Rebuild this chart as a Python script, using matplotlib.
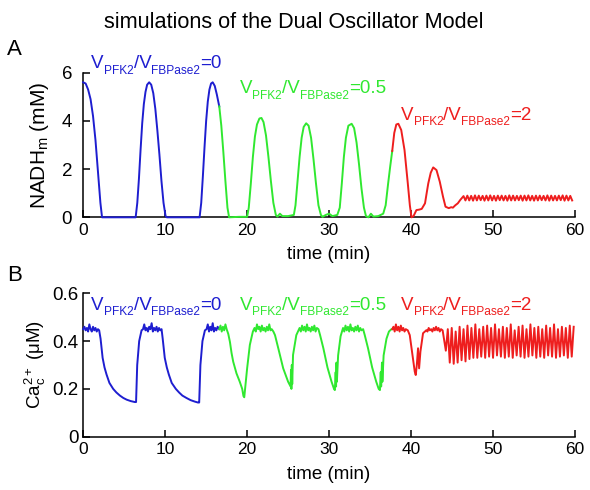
import numpy as np
import matplotlib
matplotlib.use("Agg")
import matplotlib.pyplot as plt

plt.rcParams["font.family"] = ["Liberation Sans", "DejaVu Sans"]
plt.rcParams["mathtext.fontset"] = "custom"
plt.rcParams["mathtext.rm"] = "Liberation Sans"
plt.rcParams["mathtext.it"] = "Liberation Sans:italic"

BLUE = "#1e1ed0"
GREEN = "#30e830"
RED = "#ee1e1e"

# ---- panel A: NADH_m (mM) ----
blue_nadh_t = [0.0, 0.3, 0.6, 0.9, 1.2, 1.5, 1.8, 2.1, 2.3, 6.4,
               6.6, 6.8, 7.0, 7.2, 7.4, 7.6, 7.8, 8.05, 8.3, 8.55,
               8.8, 9.05, 9.3, 9.55, 9.8, 10.05, 10.2, 14.2, 14.4, 14.6,
               14.8, 15.0, 15.2, 15.4, 15.6, 15.8, 16.05, 16.3, 16.6]
blue_nadh = [5.6, 5.55, 5.3, 4.9, 4.2, 3.2, 1.9, 0.6, 0.0, 0.0,
             0.6, 1.6, 2.8, 3.9, 4.7, 5.2, 5.5, 5.6, 5.5, 5.15,
             4.5, 3.6, 2.6, 1.5, 0.6, 0.05, 0.0, 0.0, 0.6, 1.7,
             2.9, 4.0, 4.8, 5.3, 5.55, 5.6, 5.45, 5.1, 4.6]

green_nadh_t = [16.6, 16.85, 17.1, 17.35, 17.6, 17.8, 19.0, 20.0, 20.2, 20.45,
                20.7, 20.95, 21.2, 21.5, 21.75, 22.0, 22.3, 22.6, 22.9, 23.2,
                23.5, 23.7, 24.0, 24.3, 25.0, 25.7, 25.9, 26.15, 26.4, 26.65,
                26.9, 27.2, 27.5, 27.8, 28.1, 28.4, 28.7, 29.0, 29.2, 29.6,
                30.0, 30.4, 31.0, 31.3, 31.55, 31.8, 32.05, 32.35, 32.75, 33.05,
                33.35, 33.65, 33.95, 34.25, 34.5, 34.8, 35.1, 35.4, 36.0, 36.6,
                36.9, 37.2, 37.45, 37.7]
green_nadh = [4.6, 3.8, 2.7, 1.5, 0.4, 0.0, 0.02, 0.02, 0.4, 1.4,
              2.5, 3.35, 3.85, 4.1, 4.12, 3.95, 3.4, 2.5, 1.5, 0.6,
              0.1, 0.03, 0.15, 0.05, 0.05, 0.1, 0.5, 1.5, 2.5, 3.3,
              3.75, 3.9, 3.8, 3.3, 2.4, 1.4, 0.5, 0.1, 0.02, 0.1,
              0.15, 0.05, 0.1, 0.4, 1.4, 2.5, 3.3, 3.8, 3.88, 3.7,
              3.1, 2.2, 1.2, 0.4, 0.05, 0.0, 0.15, 0.03, 0.05, 0.15,
              0.5, 1.4, 2.1, 2.75]

red_nadh_t = [37.7, 37.95, 38.2, 38.45, 38.8, 39.2, 39.6, 39.85, 40.05, 40.3,
              40.65, 41.0, 41.3, 41.7, 41.9, 42.1, 42.4, 42.7, 43.1, 43.5,
              43.9, 44.2, 44.6, 44.9, 45.1, 45.4, 45.7, 46.0]
red_nadh = [2.75, 3.5, 3.85, 3.88, 3.62, 2.79, 1.41, 0.5, 0.0, 0.05,
            0.3, 0.32, 0.35, 0.58, 1.0, 1.41, 1.85, 2.07, 1.96, 1.48,
            0.85, 0.44, 0.38, 0.42, 0.4, 0.5, 0.58, 0.72]
# fast oscillation at the end of the red run
nadh_osc_start = 46.4
nadh_osc_period = 0.465
nadh_osc_peaks = [0.88, 0.9, 0.89, 0.91, 0.9, 0.89, 0.9, 0.91, 0.89, 0.9,
                  0.9, 0.89, 0.91, 0.9, 0.89, 0.9, 0.9, 0.91, 0.89, 0.9,
                  0.9, 0.89, 0.91, 0.9, 0.89, 0.9, 0.91, 0.9, 0.89]
nadh_osc_troughs = [0.7, 0.7, 0.69, 0.7, 0.71, 0.69, 0.7, 0.7, 0.69, 0.71,
                    0.7, 0.69, 0.7, 0.7, 0.71, 0.69, 0.7, 0.7, 0.69, 0.7,
                    0.71, 0.7, 0.69, 0.7, 0.7, 0.71, 0.69, 0.7, 0.7]

# ---- panel B: Ca2+_c (uM) ----
blue_ca_t = [0.0, 0.15, 0.3, 0.45, 0.6, 0.75, 0.9, 1.05, 1.2, 1.35,
             1.5, 1.65, 1.8, 1.95, 2.12, 2.37, 2.6, 2.85, 3.2, 3.66,
             4.05, 4.48, 4.9, 5.3, 5.8, 6.3, 6.45, 6.59, 6.83, 7.12,
             7.3, 7.45, 7.6, 7.75, 7.9, 8.05, 8.2, 8.35, 8.5, 8.65,
             8.8, 8.95, 9.1, 9.25, 9.4, 9.56, 9.7, 9.95, 10.2, 10.45,
             10.8, 11.3, 11.7, 12.1, 12.6, 13.1, 13.6, 14.0, 14.15, 14.3,
             14.55, 14.85, 15.05, 15.2, 15.35, 15.5, 15.65, 15.8, 15.95, 16.1,
             16.25, 16.4, 16.6]
blue_ca = [0.45, 0.46, 0.445, 0.455, 0.44, 0.47, 0.45, 0.44, 0.46, 0.445,
           0.455, 0.44, 0.45, 0.445, 0.41, 0.33, 0.29, 0.26, 0.225, 0.2,
           0.185, 0.172, 0.162, 0.155, 0.149, 0.145, 0.145, 0.3, 0.4, 0.445,
           0.45, 0.47, 0.445, 0.455, 0.44, 0.46, 0.45, 0.475, 0.44, 0.455,
           0.445, 0.46, 0.44, 0.455, 0.445, 0.45, 0.41, 0.33, 0.29, 0.26,
           0.225, 0.2, 0.185, 0.172, 0.162, 0.153, 0.147, 0.143, 0.143, 0.3,
           0.4, 0.445, 0.45, 0.47, 0.44, 0.46, 0.445, 0.475, 0.44, 0.455,
           0.445, 0.46, 0.45]

green_ca_t = [16.6, 16.75, 16.9, 17.05, 17.2, 17.35, 17.5, 17.7, 17.9, 18.1,
              18.3, 18.7, 19.1, 19.4, 19.55, 19.65, 19.75, 20.0, 20.33, 20.7,
              20.9, 21.05, 21.2, 21.35, 21.5, 21.65, 21.8, 21.95, 22.1, 22.25,
              22.4, 22.55, 22.7, 22.85, 23.0, 23.2, 23.4, 23.8, 24.4, 25.0,
              25.3, 25.35, 25.4, 25.45, 25.5, 25.6, 26.0, 26.4, 26.55, 26.7,
              26.85, 27.0, 27.15, 27.3, 27.45, 27.6, 27.75, 27.9, 28.05, 28.2,
              28.35, 28.5, 28.7, 28.9, 29.3, 29.8, 30.3, 30.6, 30.7, 30.8,
              30.85, 30.9, 30.95, 31.1, 31.4, 31.7, 31.85, 32.0, 32.15, 32.3,
              32.45, 32.6, 32.75, 32.9, 33.05, 33.2, 33.35, 33.5, 33.65, 33.8,
              33.95, 34.15, 34.35, 34.75, 35.25, 35.75, 36.05, 36.2, 36.3, 36.35,
              36.45, 36.5, 36.65, 37.0, 37.3, 37.6, 37.7]
green_ca = [0.45, 0.465, 0.44, 0.46, 0.445, 0.47, 0.45, 0.43, 0.397, 0.35,
            0.314, 0.265, 0.23, 0.2, 0.17, 0.165, 0.2, 0.286, 0.384, 0.44,
            0.455, 0.44, 0.47, 0.45, 0.46, 0.44, 0.465, 0.445, 0.455, 0.44,
            0.46, 0.445, 0.47, 0.445, 0.45, 0.44, 0.425, 0.37, 0.286, 0.23,
            0.21, 0.28, 0.2, 0.3, 0.22, 0.342, 0.425, 0.455, 0.44, 0.465,
            0.445, 0.46, 0.44, 0.47, 0.445, 0.455, 0.44, 0.46, 0.445, 0.465,
            0.44, 0.455, 0.45, 0.425, 0.37, 0.29, 0.23, 0.2, 0.195, 0.27,
            0.21, 0.31, 0.23, 0.34, 0.42, 0.455, 0.44, 0.465, 0.445, 0.46,
            0.44, 0.47, 0.445, 0.455, 0.44, 0.46, 0.445, 0.465, 0.44, 0.455,
            0.445, 0.45, 0.425, 0.37, 0.29, 0.23, 0.2, 0.195, 0.27, 0.21,
            0.31, 0.23, 0.34, 0.41, 0.44, 0.45, 0.45]

red_ca_t = [37.7, 37.85, 38.0, 38.15, 38.3, 38.45, 38.6, 38.75, 38.9, 39.05,
            39.2, 39.35, 39.6, 39.84, 40.17, 40.45, 40.57, 40.7, 40.85, 40.98,
            41.14, 41.46, 41.88, 42.0, 42.15, 42.3, 42.45, 42.6, 42.75, 42.9,
            43.05, 43.2, 43.35, 43.5, 43.65, 43.85]
red_ca = [0.45, 0.46, 0.44, 0.47, 0.445, 0.46, 0.44, 0.465, 0.445, 0.455,
          0.44, 0.45, 0.445, 0.425, 0.342, 0.272, 0.258, 0.3, 0.37, 0.286,
          0.356, 0.433, 0.446, 0.44, 0.455, 0.445, 0.45, 0.44, 0.455, 0.445,
          0.46, 0.445, 0.455, 0.44, 0.45, 0.445]
ca_osc_start = 44.0
ca_osc_period = 0.48
ca_osc_peaks = [0.45, 0.455, 0.44, 0.46, 0.45, 0.465, 0.455, 0.47, 0.45, 0.46,
                0.465, 0.455, 0.47, 0.45, 0.46, 0.455, 0.47, 0.445, 0.46, 0.465,
                0.45, 0.47, 0.455, 0.46, 0.45, 0.465, 0.455, 0.47, 0.45, 0.46,
                0.455, 0.465, 0.46]
ca_osc_troughs = [0.36, 0.31, 0.305, 0.31, 0.32, 0.315, 0.325, 0.33, 0.33, 0.335,
                  0.33, 0.335, 0.33, 0.34, 0.335, 0.33, 0.335, 0.33, 0.34, 0.335,
                  0.33, 0.335, 0.34, 0.33, 0.335, 0.33, 0.34, 0.335, 0.33, 0.335,
                  0.34, 0.33, 0.335]

ratio_values = ["0", "0.5", "2"]


def zigzag(start, period, peaks, troughs, peak_first):
    # alternate peak/trough samples on the read oscillation period
    t, v = [], []
    for i, (p, q) in enumerate(zip(peaks, troughs)):
        base = start + i * period
        if peak_first:
            t += [base, base + period / 2]
            v += [p, q]
        else:
            t += [base + period / 2, base + period]
            v += [q, p]
    return t, v


def ratio_label(ax, x, y, value, color, big=13.5, small=8.6):
    # V_PFK2/V_FBPase2=value with small subscripts, pieces chained left to right
    first = ax.text(x, y, "V", color=color, fontsize=big, va="baseline")
    desc = 0.21 * big
    prev = first
    for s, fs in [("PFK2", small), ("/V", big), ("FBPase2", small), ("=" + value, big)]:
        if fs == big:
            va, dy = "bottom", 0
        else:
            va, dy = "baseline", desc - 3.8
        prev = ax.annotate(s, xy=(1, 0), xycoords=(prev, first), xytext=(0, dy),
                           textcoords="offset points", fontsize=fs, color=color,
                           va=va, ha="left")


osc_t, osc_v = zigzag(nadh_osc_start, nadh_osc_period, nadh_osc_peaks, nadh_osc_troughs, True)
red_nadh_t = red_nadh_t + osc_t
red_nadh = red_nadh + osc_v

osc_t, osc_v = zigzag(ca_osc_start, ca_osc_period, ca_osc_peaks, ca_osc_troughs, False)
red_ca_t = red_ca_t + osc_t
red_ca = red_ca + osc_v

fig = plt.figure(figsize=(5.9, 4.9), dpi=100)
ax_a = fig.add_axes([0.141, 0.5565, 0.8336, 0.2952])
ax_b = fig.add_axes([0.141, 0.1088, 0.8336, 0.2926])

lw = 1.4
kw = dict(lw=lw, clip_on=False, zorder=3)
ax_a.plot(blue_nadh_t, blue_nadh, color=BLUE, **kw)
ax_a.plot(green_nadh_t, green_nadh, color=GREEN, **kw)
ax_a.plot(red_nadh_t, red_nadh, color=RED, **kw)

ax_b.plot(blue_ca_t, blue_ca, color=BLUE, **kw)
ax_b.plot(green_ca_t, green_ca, color=GREEN, **kw)
ax_b.plot(red_ca_t, red_ca, color=RED, **kw)

ratio_label(ax_a, 1.0, 6.18, ratio_values[0], BLUE)
ratio_label(ax_a, 19.1, 5.14, ratio_values[1], GREEN)
ratio_label(ax_a, 38.8, 4.04, ratio_values[2], RED)

ratio_label(ax_b, 1.0, 0.53, ratio_values[0], BLUE)
ratio_label(ax_b, 19.1, 0.53, ratio_values[1], GREEN)
ratio_label(ax_b, 38.8, 0.53, ratio_values[2], RED)

for ax in (ax_a, ax_b):
    ax.set_xlim(0, 60)
    ax.set_xticks([0, 10, 20, 30, 40, 50, 60])
    ax.spines["top"].set_visible(False)
    ax.spines["right"].set_visible(False)
    ax.spines["left"].set_linewidth(1.1)
    ax.spines["bottom"].set_linewidth(1.1)
    ax.tick_params(direction="in", length=5, width=1.1)
    ax.tick_params(axis="x", labelsize=12.5, pad=4)
    ax.tick_params(axis="y", labelsize=13.5)
    ax.set_xlabel("time (min)", fontsize=13.5, labelpad=6)

ax_a.set_ylim(0, 6)
ax_a.set_yticks([0, 2, 4, 6])
ax_a.tick_params(axis="y", pad=8)
ax_a.set_ylabel(r"NADH$_{\mathrm{m}}$ (mM)", fontsize=15)
ax_a.yaxis.set_label_coords(-0.066, 0.5)

ax_b.set_ylim(0, 0.6)
ax_b.set_yticks([0, 0.2, 0.4, 0.6])
ax_b.set_yticklabels(["0", "0.2", "0.4", "0.6"])
ax_b.tick_params(axis="y", pad=3.5)
ax_b.set_ylabel(r"Ca$^{\mathrm{2+}}_{\mathrm{c}}$ (μM)", fontsize=13.5)
ax_b.yaxis.set_label_coords(-0.072, 0.5)

fig.text(0.498, 1 - 28.5 / 490, "simulations of the Dual Oscillator Model",
         ha="center", va="baseline", fontsize=15.6)
fig.text(7 / 590, 1 - 55 / 490, "A", fontsize=16, va="baseline")
fig.text(7 / 590, 1 - 281 / 490, "B", fontsize=16, va="baseline")

fig.savefig("out.png", dpi=100)
